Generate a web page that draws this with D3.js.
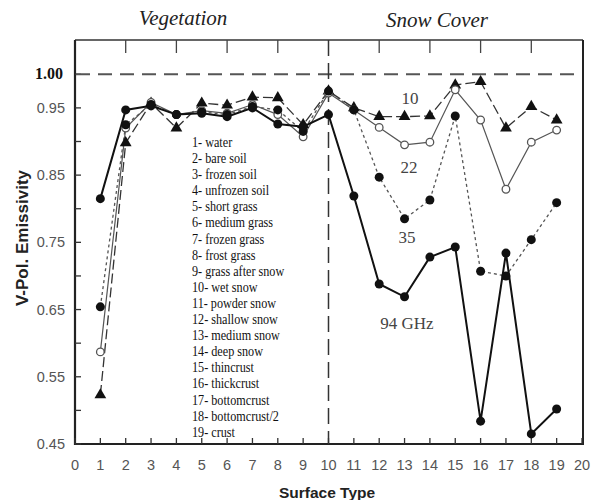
<!DOCTYPE html>
<html>
<head>
<meta charset="utf-8">
<script src="https://cdn.jsdelivr.net/npm/d3@7"></script>
<style>
  body { margin: 0; background: #fff; }
  svg { display: block; }
</style>
</head>
<body>
<div id="chart"></div>
<script>
const WIDTH = 592, HEIGHT = 500;

// surface types 1..19
const surfaceTypes = d3.range(1, 20);
const legendLabels = ["water", "bare soil", "frozen soil", "unfrozen soil", "short grass", "medium grass",
  "frozen grass", "frost grass", "grass after snow", "wet snow", "powder snow", "shallow snow",
  "medium snow", "deep snow", "thincrust", "thickcrust", "bottomcrust", "bottomcrust/2", "crust"];

// emissivity per frequency
const ghz10 = [0.523, 0.898, 0.957, 0.920, 0.957, 0.954, 0.966, 0.965, 0.925, 0.975,
  0.950, 0.937, 0.937, 0.938, 0.984, 0.989, 0.920, 0.952, 0.932];
const ghz22 = [0.587, 0.920, 0.958, 0.940, 0.946, 0.942, 0.955, 0.940, 0.907, 0.972,
  0.947, 0.921, 0.895, 0.899, 0.977, 0.932, 0.829, 0.899, 0.917];
const ghz35 = [0.654, 0.925, 0.955, 0.940, 0.944, 0.940, 0.952, 0.947, 0.915, 0.975,
  0.947, 0.847, 0.785, 0.813, 0.938, 0.707, 0.700, 0.754, 0.809];
const ghz94 = [0.815, 0.947, 0.953, 0.940, 0.942, 0.937, 0.950, 0.926, 0.922, 0.940,
  0.819, 0.688, 0.669, 0.728, 0.743, 0.484, 0.734, 0.465, 0.502];

const yTicks = [0.45, 0.55, 0.65, 0.75, 0.85, 0.95];
const xTicks = d3.range(0, 21);

const svg = d3.select("#chart").append("svg").attr("width", WIDTH).attr("height", HEIGHT);

const x = d3.scaleLinear().domain([0, 20]).range([75, 582]);
const y = d3.scaleLinear().domain([0.45, 1.051]).range([444, 40]);

// section titles
svg.append("text").attr("x", 183).attr("y", 25).attr("text-anchor", "middle")
  .style("font-family", "Liberation Serif").style("font-style", "italic").style("font-size", "21px")
  .attr("fill", "#222").text("Vegetation");
svg.append("text").attr("x", 437).attr("y", 27).attr("text-anchor", "middle")
  .style("font-family", "Liberation Serif").style("font-style", "italic").style("font-size", "21px")
  .attr("fill", "#222").text("Snow Cover");

// frame
svg.append("line").attr("x1", 75).attr("x2", 583).attr("y1", 40).attr("y2", 40).attr("stroke", "#333").attr("stroke-width", 1.5);
svg.append("line").attr("x1", 583).attr("x2", 583).attr("y1", 40).attr("y2", 444).attr("stroke", "#222").attr("stroke-width", 2);
svg.append("line").attr("x1", 75).attr("x2", 75).attr("y1", 40).attr("y2", 445).attr("stroke", "#222").attr("stroke-width", 2.2);
svg.append("line").attr("x1", 74).attr("x2", 584).attr("y1", 444).attr("y2", 444).attr("stroke", "#222").attr("stroke-width", 2.2);

// ticks
const tickVals = d3.range(0.45, 1.001, 0.05);
svg.selectAll(".ly").data(tickVals).enter().append("line")
  .attr("x1", 75).attr("x2", 81).attr("y1", d => y(d)).attr("y2", d => y(d))
  .attr("stroke", "#333").attr("stroke-width", 1.3);
svg.selectAll(".bx").data(xTicks).enter().append("line")
  .attr("x1", d => x(d)).attr("x2", d => x(d)).attr("y1", 444).attr("y2", 438)
  .attr("stroke", "#333").attr("stroke-width", 1.3);
svg.selectAll(".tx").data([2, 4, 6, 8, 12, 14, 16, 18]).enter().append("line")
  .attr("x1", d => x(d)).attr("x2", d => x(d)).attr("y1", 40).attr("y2", 53)
  .attr("stroke", "#444").attr("stroke-width", 1.3);

// tick labels
svg.selectAll(".yl").data(yTicks).enter().append("text")
  .attr("x", 65).attr("y", d => y(d) + 5).attr("text-anchor", "end")
  .style("font-family", "Liberation Sans").style("font-size", "14.5px").attr("fill", "#555")
  .text(d => d3.format(".2f")(d));
svg.append("text").attr("x", 63).attr("y", y(1.0) + 5).attr("text-anchor", "end")
  .style("font-family", "Liberation Serif").style("font-weight", "bold").style("font-size", "16px")
  .attr("fill", "#111").text("1.00");
svg.selectAll(".xl").data(xTicks).enter().append("text")
  .attr("x", d => x(d)).attr("y", 470).attr("text-anchor", "middle")
  .style("font-family", "Liberation Sans").style("font-size", "14.5px").attr("fill", "#555")
  .text(d => d);

// axis titles
svg.append("text").attr("x", 327).attr("y", 498).attr("text-anchor", "middle")
  .style("font-family", "Liberation Sans").style("font-weight", "bold").style("font-size", "15.5px")
  .attr("fill", "#222").text("Surface Type");
svg.append("text").attr("transform", "translate(28,238) rotate(-90)").attr("text-anchor", "middle")
  .style("font-family", "Liberation Sans").style("font-weight", "bold").style("font-size", "17px")
  .attr("fill", "#222").text("V-Pol. Emissivity");

// reference dashes
svg.append("line").attr("x1", 76).attr("x2", 582).attr("y1", y(1.0)).attr("y2", y(1.0))
  .attr("stroke", "#555").attr("stroke-width", 2).attr("stroke-dasharray", "14,8");
svg.append("line").attr("x1", x(10)).attr("x2", x(10)).attr("y1", 40).attr("y2", 443)
  .attr("stroke", "#333").attr("stroke-width", 1.5).attr("stroke-dasharray", "16,7");

// legend
const legend = svg.append("g").attr("transform", "translate(192,0) scale(0.84,1)");
legend.selectAll("text").data(legendLabels).enter().append("text")
  .attr("x", 0).attr("y", (d, i) => 147 + i * 16.1)
  .style("font-family", "Liberation Serif").style("font-size", "14.5px").attr("fill", "#111")
  .text((d, i) => (i + 1) + "- " + d);

// series
const line = d3.line().x((d, i) => x(surfaceTypes[i])).y(d => y(d));

svg.append("path").datum(ghz10).attr("d", line).attr("fill", "none")
  .attr("stroke", "#333").attr("stroke-width", 1.3).attr("stroke-dasharray", "10,4");
svg.append("path").datum(ghz22).attr("d", line).attr("fill", "none")
  .attr("stroke", "#555").attr("stroke-width", 1.2);
svg.append("path").datum(ghz35).attr("d", line).attr("fill", "none")
  .attr("stroke", "#555").attr("stroke-width", 1.3).attr("stroke-dasharray", "3,3");
svg.append("path").datum(ghz94).attr("d", line).attr("fill", "none")
  .attr("stroke", "#111").attr("stroke-width", 2);

const tri = d3.symbol().type(d3.symbolTriangle).size(60);
svg.selectAll(".m10").data(ghz10).enter().append("path")
  .attr("d", tri).attr("transform", (d, i) => "translate(" + x(surfaceTypes[i]) + "," + y(d) + ")")
  .attr("fill", "#111");
svg.selectAll(".m22").data(ghz22).enter().append("circle")
  .attr("cx", (d, i) => x(surfaceTypes[i])).attr("cy", d => y(d)).attr("r", 3.8)
  .attr("fill", "#fff").attr("stroke", "#555").attr("stroke-width", 1.3);
svg.selectAll(".m35").data(ghz35).enter().append("circle")
  .attr("cx", (d, i) => x(surfaceTypes[i])).attr("cy", d => y(d)).attr("r", 4.5)
  .attr("fill", "#111");
svg.selectAll(".m94").data(ghz94).enter().append("circle")
  .attr("cx", (d, i) => x(surfaceTypes[i])).attr("cy", d => y(d)).attr("r", 4.5)
  .attr("fill", "#111");

// frequency labels
const freqLabels = [["10", 410, 104], ["22", 409, 173], ["35", 407, 243], ["94 GHz", 407, 329]];
svg.selectAll(".fl").data(freqLabels).enter().append("text")
  .attr("x", d => d[1]).attr("y", d => d[2]).attr("text-anchor", "middle")
  .style("font-family", "Liberation Serif").style("font-size", "17px").attr("fill", "#444")
  .text(d => d[0]);
</script>
</body>
</html>
